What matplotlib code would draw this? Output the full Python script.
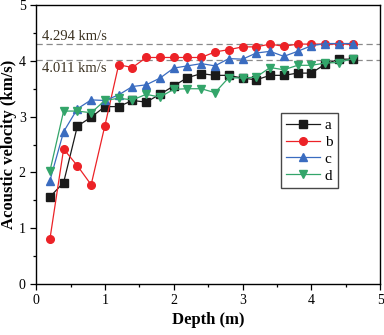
import matplotlib
matplotlib.use("Agg")
import matplotlib.pyplot as plt
import numpy as np
from matplotlib.ticker import MultipleLocator

plt.rcParams["font.family"] = ["Liberation Serif", "DejaVu Serif"]
plt.rcParams["mathtext.fontset"] = "stix"

depth = [0.2, 0.4, 0.6, 0.8, 1.0, 1.2, 1.4, 1.6, 1.8, 2.0, 2.2, 2.4,
         2.6, 2.8, 3.0, 3.2, 3.4, 3.6, 3.8, 4.0, 4.2, 4.4, 4.6]

vel_a = [1.56, 1.82, 2.83, 2.99, 3.18, 3.18, 3.29, 3.26, 3.40, 3.55, 3.70, 3.77,
         3.74, 3.74, 3.69, 3.66, 3.74, 3.74, 3.78, 3.78, 3.94, 4.03, 4.03]
vel_b = [0.80, 2.42, 2.12, 1.78, 2.84, 3.93, 3.88, 4.06, 4.06, 4.06, 4.06, 4.06,
         4.16, 4.20, 4.25, 4.25, 4.30, 4.26, 4.30, 4.30, 4.30, 4.30, 4.30]
vel_c = [1.85, 2.73, 3.14, 3.30, 3.29, 3.39, 3.54, 3.57, 3.69, 3.87, 3.91, 3.95,
         3.91, 4.04, 4.03, 4.14, 4.17, 4.08, 4.17, 4.27, 4.31, 4.31, 4.31]
vel_d = [2.02, 3.10, 3.10, 3.07, 3.29, 3.33, 3.30, 3.40, 3.35, 3.49, 3.50, 3.50,
         3.43, 3.70, 3.69, 3.71, 3.88, 3.84, 3.92, 3.92, 3.96, 3.97, 4.04]

ref_levels = [4.294, 4.011]
ref_labels = ["4.294 km/s", "4.011 km/s"]

series = [
    ("a", vel_a, "#1a1a1a", "s"),
    ("b", vel_b, "#ec2227", "o"),
    ("c", vel_c, "#3a6cc0", "^"),
    ("d", vel_d, "#33a56a", "v"),
]

fig = plt.figure(figsize=(3.84, 3.35), dpi=100)
ax = fig.add_axes([0.094, 0.152, 0.896, 0.833])

for lvl in ref_levels:
    ax.axhline(lvl, color="#8a8a8a", lw=0.9, ls=(0, (5, 3)), zorder=1)

for name, vals, col, mk in series:
    ax.plot(depth, vals, color=col, marker=mk, ms=5.5, lw=0.9,
            label=name, zorder=3)

ax.text(0.08, 4.44, ref_labels[0], fontsize=10.5, color="#3a3020", va="center")
ax.text(0.08, 3.86, ref_labels[1], fontsize=10.5, color="#3a3020", va="center")

ax.set_xlim(0, 5)
ax.set_ylim(0, 5)
ax.xaxis.set_major_locator(MultipleLocator(1))
ax.xaxis.set_minor_locator(MultipleLocator(0.5))
ax.yaxis.set_major_locator(MultipleLocator(1))
ax.yaxis.set_minor_locator(MultipleLocator(0.5))
ax.tick_params(which="major", direction="out", length=4, width=0.9, labelsize=10)
ax.tick_params(which="minor", direction="out", length=2.5, width=0.9)
for sp in ax.spines.values():
    sp.set_linewidth(1.0)

ax.set_xlabel("Depth (m)", fontsize=12, fontweight="bold", labelpad=3)
ax.set_ylabel("Acoustic velocity (km/s)", fontsize=12, fontweight="bold", labelpad=1)

leg = ax.legend(loc="upper left", bbox_to_anchor=(0.712, 0.612), fontsize=11,
                frameon=True, fancybox=False, edgecolor="#1a1a1a",
                handlelength=2.2, borderpad=0.35, labelspacing=0.2,
                handletextpad=0.3, borderaxespad=0)
leg.get_frame().set_linewidth(1.0)

fig.savefig("out.png", dpi=100)
